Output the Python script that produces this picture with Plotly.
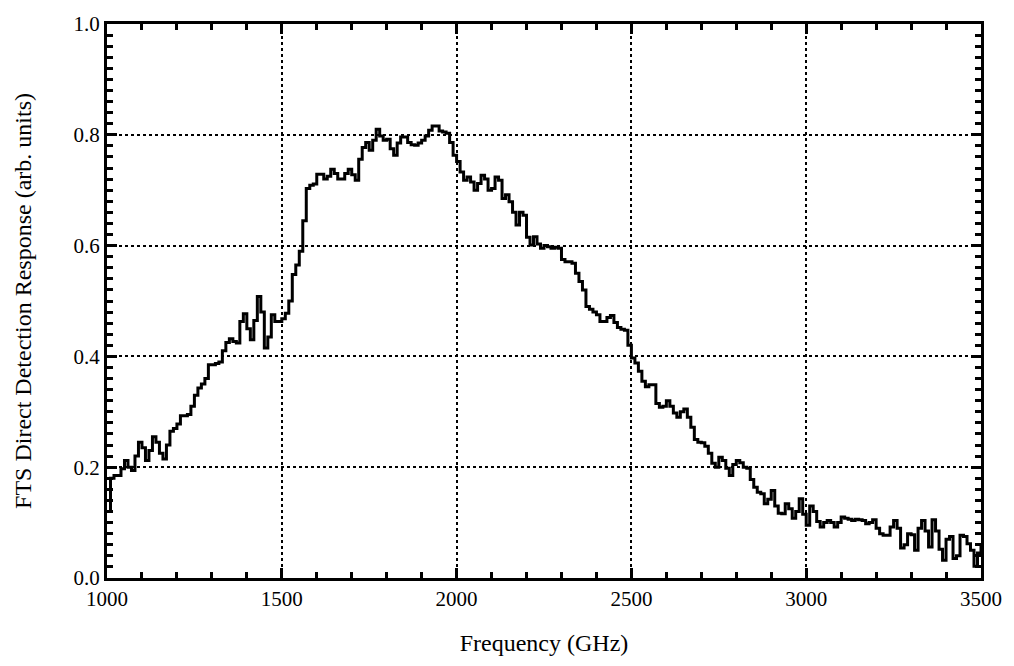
import plotly.graph_objects as go

freq_start = 1000
freq_step = 10
response = [
    0.12, 0.18, 0.185, 0.185, 0.197, 0.212, 0.2, 0.194, 0.22, 0.245,
    0.235, 0.212, 0.23, 0.255, 0.245, 0.225, 0.215, 0.24, 0.265, 0.27,
    0.278, 0.293, 0.293, 0.295, 0.31, 0.33, 0.343, 0.35, 0.36, 0.385,
    0.385, 0.387, 0.39, 0.41, 0.425, 0.432, 0.427, 0.424, 0.463, 0.477,
    0.45, 0.43, 0.465, 0.508, 0.48, 0.415, 0.435, 0.475, 0.463, 0.463,
    0.468, 0.478, 0.5, 0.548, 0.565, 0.59, 0.645, 0.703, 0.709, 0.711,
    0.729, 0.729, 0.72, 0.725, 0.738, 0.73, 0.72, 0.72, 0.73, 0.738,
    0.728, 0.718, 0.756, 0.777, 0.786, 0.772, 0.79, 0.81, 0.798, 0.79,
    0.792, 0.775, 0.763, 0.785, 0.796, 0.796, 0.786, 0.782, 0.781, 0.785,
    0.79, 0.798, 0.808, 0.816, 0.816, 0.807, 0.805, 0.803, 0.786, 0.763,
    0.752, 0.733, 0.718, 0.724, 0.715, 0.7, 0.712, 0.727, 0.72, 0.7,
    0.703, 0.724, 0.718, 0.685, 0.692, 0.679, 0.66, 0.637, 0.66, 0.655,
    0.615, 0.601, 0.616, 0.603, 0.595, 0.6, 0.598, 0.595, 0.597, 0.595,
    0.575, 0.571, 0.571, 0.568, 0.55, 0.535, 0.52, 0.49, 0.485, 0.48,
    0.475, 0.463, 0.463, 0.47, 0.474, 0.461, 0.452, 0.449, 0.447, 0.42,
    0.397, 0.388, 0.373, 0.355, 0.345, 0.349, 0.349, 0.315, 0.308, 0.31,
    0.32, 0.31, 0.298, 0.29, 0.3, 0.305, 0.29, 0.272, 0.25, 0.245,
    0.244, 0.238, 0.225, 0.207, 0.2, 0.218, 0.212, 0.198, 0.185, 0.205,
    0.212, 0.208, 0.2, 0.198, 0.178, 0.164, 0.155, 0.152, 0.134, 0.142,
    0.158, 0.13, 0.117, 0.116, 0.134, 0.125, 0.108, 0.12, 0.143, 0.115,
    0.095, 0.13, 0.12, 0.102, 0.092, 0.1, 0.104, 0.1, 0.092, 0.1,
    0.11, 0.108, 0.106, 0.104, 0.106, 0.105, 0.104, 0.098, 0.1, 0.105,
    0.09, 0.08, 0.077, 0.077, 0.092, 0.104, 0.09, 0.054, 0.06, 0.08,
    0.078, 0.05, 0.09, 0.104, 0.085, 0.056, 0.105, 0.085, 0.052, 0.032,
    0.07, 0.075, 0.035, 0.04, 0.077, 0.075, 0.062, 0.05, 0.021, 0.045,
    0.06,
]
frequency = [freq_start + i * freq_step for i in range(len(response))]

x_tickvals = [1000, 1500, 2000, 2500, 3000, 3500]
y_tickvals = [0.0, 0.2, 0.4, 0.6, 0.8, 1.0]

font_family = "Liberation Serif"

fig = go.Figure()
fig.add_trace(go.Scatter(
    x=frequency, y=response, mode="lines",
    line=dict(color="black", width=3, shape="hv"),
    showlegend=False,
))

axis_common = dict(
    showline=True, linecolor="black", linewidth=3, mirror="ticks",
    ticks="inside", ticklen=10, tickwidth=2.5, tickcolor="black",
    showgrid=True, gridcolor="black", gridwidth=1.6, griddash="dot",
    zeroline=False,
    tickfont=dict(family=font_family, size=21, color="black"),
)

fig.update_xaxes(
    range=[1000, 3500], tickvals=x_tickvals,
    minor=dict(dtick=100, ticks="inside", ticklen=6, tickwidth=2.5, tickcolor="black", showgrid=False),
    title=dict(text="Frequency (GHz)", font=dict(family=font_family, size=24, color="black"), standoff=24),
    **axis_common,
)
fig.update_yaxes(
    range=[0, 1], tickvals=y_tickvals, tickformat=".1f",
    minor=dict(dtick=0.02, ticks="inside", ticklen=6, tickwidth=2.5, tickcolor="black", showgrid=False),
    title=dict(text="FTS Direct Detection Response (arb. units)", font=dict(family=font_family, size=24, color="black"), standoff=36),
    **axis_common,
)

fig.update_layout(
    width=1014, height=666,
    margin=dict(l=107, r=27, t=21, b=88),
    paper_bgcolor="white", plot_bgcolor="white",
)

fig.write_html("out.html")
